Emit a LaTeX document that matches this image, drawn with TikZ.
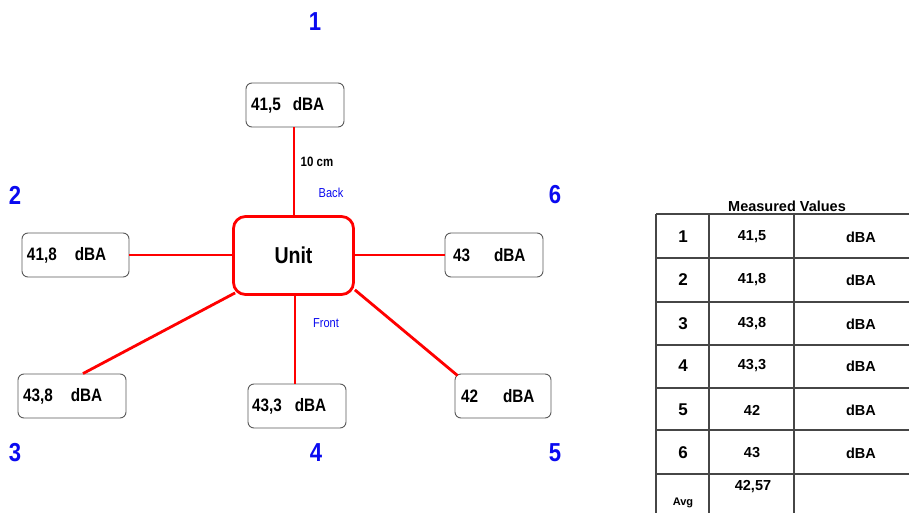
\documentclass[tikz,border=0pt]{standalone}
\usepackage{fontspec}
\setmainfont{Liberation Sans}
\newfontfamily\narrowf[FakeStretch=0.85]{Liberation Sans}
\newcommand{\fs}[1]{\fontsize{#1}{#1}\selectfont}
\definecolor{lblblue}{RGB}{10,10,240}
\definecolor{boxgray}{RGB}{90,90,90}
\definecolor{tabgray}{RGB}{70,70,70}
\tikzset{
  valbox/.style={draw=boxgray, line width=0.9pt, rounded corners=6pt, fill=white,
    minimum height=44pt, inner xsep=0pt, inner ysep=0pt, anchor=center,
    font=\narrowf\bfseries\fs{18}},
  unitbox/.style={draw=red, line width=2.8pt, rounded corners=12pt, fill=white,
    minimum width=120pt, minimum height=78pt, font=\narrowf\bfseries\fs{23}},
  wire/.style={draw=red, line width=2.8pt},
  poslbl/.style={text=lblblue, font=\narrowf\bfseries\fs{26}, inner sep=0pt},
  sidelbl/.style={text=lblblue, font=\narrowf\fs{13}, inner sep=0pt},
  distlbl/.style={text=black, font=\narrowf\bfseries\fs{13.5}, inner sep=0pt},
  tabline/.style={draw=tabgray, line width=1.2pt},
  tabnum/.style={font=\bfseries\fs{17}, inner sep=0pt},
  tabval/.style={font=\bfseries\fs{14.5}, inner sep=0pt},
}
% #1 box width, #2 left pad, #3 value, #4 gap
\newcommand{\boxtxt}[4]{\raisebox{-2pt}{\makebox[#1pt][l]{\hspace*{#2pt}#3\hspace{#4pt}dBA}}}
\begin{document}
\begin{tikzpicture}[x=1pt,y=-1pt]
\clip (0,0) rectangle (909,513);
\fill[white] (0,0) rectangle (909,513);
% unit and boxes
\node[unitbox] (unit) at (293.5,255.5) {Unit};
\node[valbox, minimum width=98pt] (b1) at (295,105) {\boxtxt{98}{5}{41,5}{12}};
\node[valbox, minimum width=107pt] (b2) at (75.5,255) {\boxtxt{107}{5}{41,8}{18}};
\node[valbox, minimum width=98pt] (b6) at (494,255) {\boxtxt{98}{8}{43}{24}};
\node[valbox, minimum width=108pt] (b3) at (72,396) {\boxtxt{108}{5}{43,8}{18}};
\node[valbox, minimum width=98pt] (b4) at (297,406) {\boxtxt{98}{4}{43,3}{13}};
\node[valbox, minimum width=96pt] (b5) at (503,396) {\boxtxt{96}{6}{42}{25}};
% connectors
\draw[wire] (b1.south -| 294,0) -- (unit.north -| 294,0);
\draw[wire] (b2.east) -- (unit.west |- b2.east);
\draw[wire] (unit.east |- b6.west) -- (b6.west);
\draw[wire] (unit.south -| 295,0) -- (b4.north -| 295,0);
\draw[wire] ([xshift=3pt,yshift=3pt]unit.south west) -- ([xshift=11pt]b3.north);
\draw[wire] ([yshift=6pt]unit.south east) -- ([xshift=3pt,yshift=-2pt]b5.north west);
% position labels
\node[poslbl] (p1) at (315,22) {1};
\node[poslbl] (p2) at (15,195) {2};
\node[poslbl] (p6) at (555,195) {6};
\node[poslbl] (p3) at (15,453) {3};
\node[poslbl] (p4) at (316,453) {4};
\node[poslbl] (p5) at (555,453) {5};
\node[distlbl] (dist) at (317,162) {10 cm};
\node[sidelbl] (back) at (331,193) {Back};
\node[sidelbl] (front) at (326,323) {Front};
% table
\node[font=\bfseries\fs{14.5}, inner sep=0pt] (ttl) at (787,206) {Measured Values};
\foreach \yy in {214,258,302,345,388,430,474} {
  \draw[tabline] (656,\yy) -- (930,\yy);
}
\foreach \xx in {656,709,794} {
  \draw[tabline] (\xx,214) -- (\xx,520);
}
\foreach \n/\v/\yy in {1/41{,}5/237, 2/41{,}8/280, 3/43{,}8/324, 4/43{,}3/366, 5/42/410, 6/43/453} {
  \node[tabnum] at (683,\yy) {\n};
  \node[tabval] at (752,\yy) {\v};
  \node[tabval] at (861,\yy) {dBA};
}
\node[font=\bfseries\fs{11}, inner sep=0pt] (avg) at (683,503) {Avg};
\node[tabval] (avgv) at (753,487) {42,57};
\end{tikzpicture}
\end{document}
